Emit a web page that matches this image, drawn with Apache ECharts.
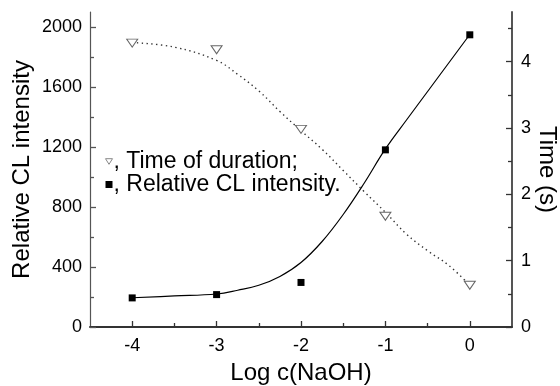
<!DOCTYPE html>
<html>
<head>
<meta charset="utf-8">
<script src="https://cdn.jsdelivr.net/npm/echarts@6/dist/echarts.min.js"></script>
<style>html,body{margin:0;padding:0;background:#fff}#c{width:560px;height:386px}</style>
</head>
<body>
<div id="c"></div>
<script>
// ---- data ----
const logC = [-4, -3, -2, -1, 0];
const clIntensity = [194, 216, 297, 1181, 1948];
const durationTime = [4.28, 4.18, 2.98, 1.67, 0.63];
// fitted curves
const clFitX = [-4, -3.5, -3, -2.75, -2.5, -2.25, -2, -1.75, -1.5, -1.25, -1, -0.75, -0.5, -0.25, 0];
const clFitY = [195, 207, 220, 245, 278, 337, 430, 570, 750, 960, 1187, 1380, 1570, 1760, 1950];
const timeFitX = [-4, -3.5, -3, -2.75, -2.5, -2.25, -2, -1.75, -1.5, -1.25, -1, -0.75, -0.5, -0.25, 0];
const timeFitY = [4.29, 4.22, 4.02, 3.81, 3.56, 3.25, 2.96, 2.68, 2.36, 2.04, 1.73, 1.40, 1.15, 0.93, 0.63];
// axes
const xMajorTicks = [-4, -3, -2, -1, 0];
const xMinorTicks = [-3.5, -2.5, -1.5, -0.5];
const yLeftMajor = [0, 400, 800, 1200, 1600, 2000];
const yLeftMinor = [200, 600, 1000, 1400, 1800];
const yRightMajor = [0, 1, 2, 3, 4];
const yRightMinor = [0.5, 1.5, 2.5, 3.5, 4.5];
const seriesNames = ['Time of duration', 'Relative CL intensity'];
const legendSuffix = [';', '.'];

const zip = (a, b) => a.map((v, i) => [v, b[i]]);
const FONT = '"Liberation Sans", Arial, sans-serif';
const X0 = -4.5, X1 = 0.5, YL1 = 2100, YR1 = 4.75;
const tri = 'path://M0,0L10,0L5,8Z';
const plain = v => String(v);

const chart = echarts.init(document.getElementById('c'), null, {renderer: 'canvas'});
chart.setOption({
  animation: false,
  backgroundColor: '#fff',
  textStyle: {fontFamily: FONT, color: '#000'},
  grid: {left: 90, right: 48, top: 12, bottom: 59, containLabel: false, outerBoundsMode: 'none'},
  legend: {
    left: 100, top: 145, orient: 'vertical', itemGap: 0,
    itemWidth: 7, itemHeight: 7,
    data: [
      {name: seriesNames[0], icon: tri, itemStyle: {color: '#fff', borderColor: '#888', borderWidth: 1}},
      {name: seriesNames[1], icon: 'rect', itemStyle: {color: '#000'}}
    ],
    formatter: n => ', ' + n + legendSuffix[seriesNames.indexOf(n)],
    textStyle: {fontFamily: FONT, fontSize: 23, color: '#000', padding: [0, 0, 0, -4]}
  },
  xAxis: [{
    type: 'value', min: X0, max: X1, position: 'bottom',
    name: 'Log c(NaOH)', nameLocation: 'middle', nameGap: 34,
    nameTextStyle: {fontFamily: FONT, fontSize: 24, color: '#000'},
    axisLine: {onZero: false, lineStyle: {color: '#333', width: 2}},
    axisTick: {show: true, inside: true, length: 6, customValues: xMajorTicks, lineStyle: {color: '#333', width: 1.3}},
    axisLabel: {customValues: xMajorTicks, formatter: plain, fontFamily: FONT, fontSize: 18, color: '#000', margin: 10},
    splitLine: {show: false}
  }, {
    type: 'value', min: X0, max: X1, position: 'bottom',
    axisLine: {show: false, onZero: false},
    axisTick: {show: true, inside: true, length: 4, customValues: xMinorTicks, lineStyle: {color: '#333', width: 1.3}},
    axisLabel: {show: false}, splitLine: {show: false}
  }],
  yAxis: [{
    type: 'value', min: 0, max: YL1, position: 'left',
    name: 'Relative CL intensity', nameLocation: 'middle', nameGap: 56, nameMoveOverlap: false,
    nameTextStyle: {fontFamily: FONT, fontSize: 24, color: '#000'},
    axisLine: {show: true, onZero: false, lineStyle: {color: '#555', width: 1.2}},
    axisTick: {show: true, inside: true, length: 6, customValues: yLeftMajor, lineStyle: {color: '#555', width: 1.3}},
    axisLabel: {customValues: yLeftMajor, formatter: plain, fontFamily: FONT, fontSize: 18, color: '#000', margin: 8},
    splitLine: {show: false}
  }, {
    type: 'value', min: 0, max: YR1, position: 'right',
    name: 'Time (s)', nameLocation: 'middle', nameGap: 23, nameRotate: -90, nameMoveOverlap: false,
    nameTextStyle: {fontFamily: FONT, fontSize: 24, color: '#000'},
    axisLine: {show: true, onZero: false, lineStyle: {color: '#555', width: 2}},
    axisTick: {show: true, inside: true, length: 6, customValues: yRightMajor, lineStyle: {color: '#333', width: 1.3}},
    axisLabel: {customValues: yRightMajor, formatter: plain, fontFamily: FONT, fontSize: 18, color: '#000', margin: 9},
    splitLine: {show: false}
  }, {
    type: 'value', min: 0, max: YL1, position: 'left',
    axisLine: {show: false, onZero: false},
    axisTick: {show: true, inside: true, length: 4, customValues: yLeftMinor, lineStyle: {color: '#555', width: 1.3}},
    axisLabel: {show: false}, splitLine: {show: false}
  }, {
    type: 'value', min: 0, max: YR1, position: 'right',
    axisLine: {show: false, onZero: false},
    axisTick: {show: true, inside: true, length: 4, customValues: yRightMinor, lineStyle: {color: '#333', width: 1.3}},
    axisLabel: {show: false}, splitLine: {show: false}
  }],
  series: [{
    name: 'clFit', type: 'line', xAxisIndex: 0, yAxisIndex: 0, smooth: 0.4,
    data: zip(clFitX, clFitY), showSymbol: false, symbol: 'none',
    lineStyle: {color: '#000', width: 1.2}, z: 2
  }, {
    name: 'timeFit', type: 'line', xAxisIndex: 0, yAxisIndex: 1, smooth: 0.4,
    data: zip(timeFitX, timeFitY), showSymbol: false, symbol: 'none',
    lineStyle: {color: '#333', width: 1.4, type: [1.4, 3.4]}, z: 2
  }, {
    name: seriesNames[0], type: 'scatter', xAxisIndex: 0, yAxisIndex: 1,
    data: zip(logC, durationTime), symbol: tri, symbolSize: [11, 8],
    itemStyle: {color: '#fff', borderColor: '#666', borderWidth: 1, opacity: 1}, z: 3
  }, {
    name: seriesNames[1], type: 'scatter', xAxisIndex: 0, yAxisIndex: 0,
    data: zip(logC, clIntensity), symbol: 'rect', symbolSize: 7,
    itemStyle: {color: '#000', opacity: 1}, z: 3
  }]
});
</script>
</body>
</html>
